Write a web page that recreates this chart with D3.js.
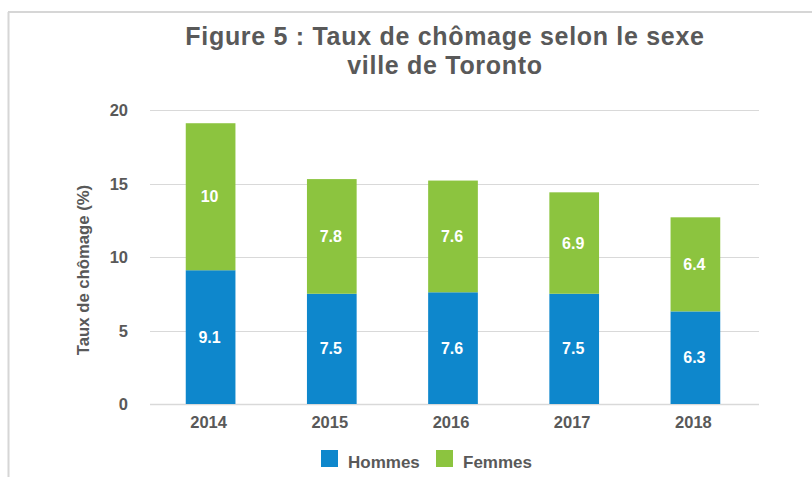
<!DOCTYPE html>
<html><head><meta charset="utf-8">
<script src="https://cdn.jsdelivr.net/npm/d3@7"></script>
<style>body{margin:0;background:#fff}svg{display:block;font-family:"Liberation Sans",Arial,sans-serif}</style>
</head><body>
<svg id="c" width="812" height="477"></svg>
<script>
const years = ["2014","2015","2016","2017","2018"];
const hommes = [9.1, 7.5, 7.6, 7.5, 6.3];
const femmes = [10, 7.8, 7.6, 6.9, 6.4];
const yTicks = [0, 5, 10, 15, 20];
const seriesNames = ["Hommes", "Femmes"];
const colors = ["#0E87CC", "#8CC43F"];

const svg = d3.select("#c");
const grey = "#595959";

// frame
svg.append("line").attr("x1",8.5).attr("x2",8.5).attr("y1",12).attr("y2",477).attr("stroke","#d6d6d6").attr("stroke-width",2);
svg.append("line").attr("x1",8).attr("x2",812).attr("y1",12).attr("y2",12).attr("stroke","#d6d6d6").attr("stroke-width",2);

const x = d3.scaleBand().domain(years).range([150,756]).paddingInner(0.59).paddingOuter(0.295);
const y = d3.scaleLinear().domain([0,20]).range([404,110]);

// y axis labels
const yAxis = d3.axisLeft(y).tickValues(yTicks).tickSize(0).tickPadding(0).tickFormat(d3.format("d"));
const ga = svg.append("g").attr("transform","translate(128,0)").call(yAxis);
ga.select(".domain").remove();
ga.selectAll("text").attr("font-size",16.5).attr("font-weight","bold").attr("fill",grey).attr("font-family","Liberation Sans, Arial, sans-serif").attr("dy","0.35em");

// grid
svg.append("g").selectAll("line").data(yTicks).join("line")
  .attr("x1",150).attr("x2",759).attr("y1",d=>Math.round(y(d))+0.5).attr("y2",d=>Math.round(y(d))+0.5)
  .attr("stroke","#d9d9d9").attr("stroke-width",d=>d===0?1.5:1);

// stacked bars
const data = years.map((yr,i)=>({year:yr, Hommes:hommes[i], Femmes:femmes[i]}));
const stack = d3.stack().keys(seriesNames)(data);
const layers = svg.append("g").selectAll("g").data(stack).join("g").attr("fill",(d,i)=>colors[i]);
layers.selectAll("rect").data(d=>d).join("rect")
  .attr("x",d=>x(d.data.year)).attr("width",x.bandwidth())
  .attr("y",d=>y(d[1])).attr("height",d=>y(d[0])-y(d[1]));

const labels = svg.append("g");
stack.forEach(layer=>{
  labels.selectAll(null).data(layer).join("text")
    .attr("x",d=>x(d.data.year)+x.bandwidth()/2-1)
    .attr("y",d=>(y(d[0])+y(d[1]))/2)
    .attr("dy","0.35em").attr("text-anchor","middle")
    .attr("font-size",16).attr("font-weight","bold").attr("fill","#fff")
    .text(d=>d3.format("~g")(d[1]-d[0]));
});

// x axis
const xa = svg.append("g").attr("transform","translate(0,404)").call(d3.axisBottom(x).tickSize(0).tickPadding(0));
xa.select(".domain").remove();
xa.selectAll("text").attr("font-size",16.5).attr("font-weight","bold").attr("fill",grey).attr("font-family","Liberation Sans, Arial, sans-serif").attr("y",23.5).attr("dy",0).attr("dx",-2);

// y title
svg.append("text").attr("transform","translate(89,270) rotate(-90)").attr("text-anchor","middle")
  .attr("font-size",16.7).attr("font-weight","bold").attr("fill",grey).text("Taux de chômage (%)");

// title
const t = svg.append("text").attr("text-anchor","middle").attr("font-size",25).attr("letter-spacing",0.7).attr("font-weight","bold").attr("fill",grey);
t.append("tspan").attr("x",445).attr("y",45).text("Figure 5 : Taux de chômage selon le sexe");
t.append("tspan").attr("x",445).attr("y",74).text("ville de Toronto");

// legend
const leg = svg.append("g");
const legX = [321, 436];
seriesNames.forEach((s,i)=>{
  leg.append("rect").attr("x",legX[i]).attr("y",450).attr("width",17).attr("height",17).attr("fill",colors[i]);
  leg.append("text").attr("x",legX[i]+27).attr("y",468).attr("font-size",17).attr("font-weight","bold").attr("fill",grey).text(s);
});
</script>
</body></html>
